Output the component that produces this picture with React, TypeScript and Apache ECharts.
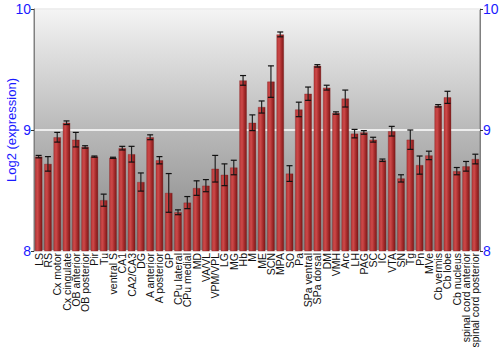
import React, { useEffect, useRef } from "react";
import * as echarts from "echarts";

const categories = [
  "LS", "RS", "Cx motor", "Cx cingulate", "OB anterior", "OB posterior", "Pir", "Tu",
  "ventral S", "CA1", "CA2/CA3", "DG", "A anterior", "A posterior", "GP", "CPu lateral",
  "CPu medial", "MD", "VA/VL", "VPM/VPL", "LG", "MG", "Hb", "M", "ME", "SCN", "MPA",
  "SO", "Pa", "SPa ventral", "SPa dorsal", "DM", "VMH", "Arc", "LH", "PAG", "SC", "IC",
  "VTA", "SN", "Tg", "Pn", "MVe", "Cb vermis", "Cb lobe", "Cb nucleus",
  "spinal cord anterior", "spinal cord posterior",
];

const means = [
  8.78, 8.72, 8.94, 9.06, 8.92, 8.86, 8.78, 8.42,
  8.77, 8.85, 8.80, 8.57, 8.94, 8.75, 8.48, 8.32,
  8.40, 8.52, 8.54, 8.68, 8.63, 8.69, 9.41, 9.06, 9.19, 9.40, 9.79,
  8.64, 9.17, 9.30, 9.53, 9.35, 9.14, 9.26, 8.97, 8.98, 8.92, 8.75,
  8.99, 8.60, 8.92, 8.71, 8.79, 9.20, 9.27, 8.66,
  8.70, 8.76,
];

const errors = [
  0.01, 0.06, 0.04, 0.015, 0.06, 0.01, 0.005, 0.05,
  0.005, 0.015, 0.065, 0.075, 0.02, 0.03, 0.16, 0.02,
  0.05, 0.06, 0.05, 0.11, 0.09, 0.06, 0.04, 0.065, 0.05, 0.13, 0.02,
  0.065, 0.06, 0.055, 0.01, 0.02, 0.01, 0.07, 0.035, 0.015, 0.02, 0.01,
  0.04, 0.03, 0.08, 0.075, 0.035, 0.01, 0.05, 0.03,
  0.04, 0.04,
];

const yTicks = { min: 8, max: 10, interval: 1 };

export default function App() {
  const ref = useRef<HTMLDivElement>(null);
  useEffect(() => {
    if (!ref.current) return;
    const chart = echarts.init(ref.current, null, { renderer: "svg" });
    const font = "'Liberation Sans', Arial, sans-serif";
    const errData = means.map((m, i) => [i, m - errors[i], m + errors[i]]);
    const yAxisCommon = {
      type: "value" as const,
      min: yTicks.min,
      max: yTicks.max,
      interval: yTicks.interval,
      axisLine: { show: true, lineStyle: { color: "#808080", width: 1 } },
      axisTick: { show: true, length: 3, lineStyle: { color: "#333" } },
      axisLabel: { color: "#1a1aff", fontSize: 14, fontFamily: font, margin: 3 },
    };
    chart.setOption({
      animation: false,
      grid: {
        left: 34,
        right: 20,
        top: 9,
        bottom: 99,
        outerBoundsMode: "none",
        containLabel: false,
        show: true,
        borderColor: "#808080",
        borderWidth: 1,
        backgroundColor: new echarts.graphic.LinearGradient(0, 0, 0, 1, [
          { offset: 0, color: "#f4f4f4" },
          { offset: 0.5, color: "#b9b9b9" },
          { offset: 1, color: "#858585" },
        ]),
      },
      xAxis: {
        type: "category",
        data: categories,
        axisLine: { show: false },
        axisTick: { show: false },
        axisLabel: {
          rotate: 90,
          interval: 0,
          color: "#111",
          fontSize: 10.5,
          fontFamily: font,
          margin: 2,
        },
      },
      yAxis: [
        {
          ...yAxisCommon,
          position: "left",
          name: "Log2 (expression)",
          nameLocation: "middle",
          nameGap: 16,
          nameMoveOverlap: false,
          nameTextStyle: { color: "#1a1aff", fontSize: 13, fontFamily: font },
          splitLine: { show: true, lineStyle: { color: "#ffffff", width: 1.5 } },
        },
        {
          ...yAxisCommon,
          position: "right",
          splitLine: { show: false },
        },
      ],
      series: [
        {
          type: "bar",
          data: means,
          barCategoryGap: "20%",
          itemStyle: {
            color: new echarts.graphic.LinearGradient(0, 0, 1, 0, [
              { offset: 0, color: "#b83a3a" },
              { offset: 0.35, color: "#cc4848" },
              { offset: 0.7, color: "#a42a2a" },
              { offset: 1, color: "#7e1a1a" },
            ]),
            borderColor: "rgba(120,20,20,0.6)",
            borderWidth: 0.5,
          },
        },
        {
          type: "custom",
          data: errData,
          z: 10,
          renderItem: (params: any, api: any) => {
            const x = api.value(0);
            const lo = api.coord([x, api.value(1)]);
            const hi = api.coord([x, api.value(2)]);
            const hw = 3;
            return {
              type: "group",
              children: [
                {
                  type: "line",
                  shape: { x1: lo[0], y1: lo[1], x2: hi[0], y2: hi[1] },
                  style: { stroke: "#222", lineWidth: 1.2 },
                },
                {
                  type: "line",
                  shape: { x1: lo[0] - hw, y1: lo[1], x2: lo[0] + hw, y2: lo[1] },
                  style: { stroke: "#111", lineWidth: 1.2 },
                },
                {
                  type: "line",
                  shape: { x1: hi[0] - hw, y1: hi[1], x2: hi[0] + hw, y2: hi[1] },
                  style: { stroke: "#111", lineWidth: 1.2 },
                },
              ],
            };
          },
        },
      ],
    });
    return () => chart.dispose();
  }, []);
  return <div ref={ref} style={{ width: 500, height: 350, position: "absolute", left: 0, top: 0 }} />;
}
